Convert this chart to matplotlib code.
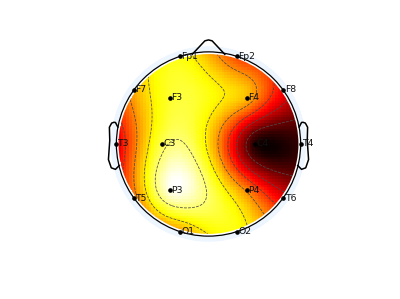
import numpy as np
import matplotlib
matplotlib.use("Agg")
import matplotlib.pyplot as plt
from matplotlib.patches import Circle

# channel locations (theta in degrees, 0 = nose, radius with head edge at 0.5)
channels = ["Fp1", "Fp2", "F7", "F3", "F4", "F8", "T3", "C3",
            "C4", "T4", "T5", "P3", "P4", "T6", "O1", "O2"]
theta = [-18, 18, -54, -39.9, 39.9, 54, -90, -90,
         90, 90, -126, -140.1, 140.1, 126, -162, 162]
radius = [0.511, 0.511, 0.511, 0.333, 0.333, 0.511, 0.511, 0.256,
          0.256, 0.511, 0.511, 0.333, 0.333, 0.511, 0.511, 0.511]
values = [0.76, 0.45, 0.62, 0.80, 0.64, 0.34, 0.30, 0.84,
          0.00, 0.03, 0.52, 1.00, 0.55, 0.32, 0.60, 0.76]

BACK = (0.93, 0.96, 1.0)
RMAX = 0.5


def v4_interp(ex, ey, v, gx, gy):
    # biharmonic spline (matlab griddata 'v4')
    pts = ex + 1j * ey
    d = np.abs(pts[:, None] - pts[None, :])
    with np.errstate(divide="ignore", invalid="ignore"):
        g = d ** 2 * (np.log(d) - 1)
    g[d == 0] = 0
    w = np.linalg.solve(g, v)
    q = (gx + 1j * gy).ravel()
    dq = np.abs(q[:, None] - pts[None, :])
    with np.errstate(divide="ignore", invalid="ignore"):
        gq = dq ** 2 * (np.log(dq) - 1)
    gq[dq == 0] = 0
    return (gq @ w).reshape(gx.shape)


def main():
    th = np.deg2rad(theta)
    ex = np.array(radius) * np.sin(th)
    ey = np.array(radius) * np.cos(th)
    v = np.array(values, dtype=float)

    rad = max(radius)
    xi = np.linspace(-rad, rad, 67)
    gx, gy = np.meshgrid(xi, xi)
    zi = v4_interp(ex, ey, v, gx, gy)
    mask = np.hypot(gx, gy) > RMAX + 0.006
    zi = np.ma.masked_array(zi, mask)

    fig = plt.figure(figsize=(4.0, 2.99), dpi=100)
    ax = fig.add_axes([0, 0, 1, 1])
    ax.set_xlim(-208.5 / 181, (400 - 208.5) / 181)
    ax.set_ylim(-(299 - 144) / 181, 144 / 181)
    ax.axis("off")

    # blanking halo
    ax.add_patch(Circle((0, 0), RMAX + 0.036, color=BACK, zorder=0))

    step = xi[1] - xi[0]
    im = ax.imshow(zi, origin="lower", cmap="hot",
                   vmin=zi.min(), vmax=zi.max(), interpolation="nearest",
                   extent=[-rad - step / 2, rad + step / 2, -rad - step / 2, rad + step / 2],
                   zorder=1)
    clip = Circle((0, 0), RMAX + 0.004, transform=ax.transData)
    im.set_clip_path(clip)

    levels = np.linspace(zi.min(), zi.max(), 8)[1:-1]
    cs = ax.contour(gx, gy, zi, levels=levels, colors="#4a4a4a",
                    linewidths=0.55, linestyles="--", zorder=2)
    cs.set_clip_path(clip)

    # head ring
    ax.add_patch(Circle((0, 0), RMAX + 0.003, fill=False, ec="white", lw=1.6, zorder=3))
    ax.add_patch(Circle((0, 0), RMAX + 0.009, fill=False, ec="black", lw=0.9, zorder=3))

    # nose
    base = RMAX - 0.0046
    bx = 0.18 * RMAX
    tip = 1.15 * RMAX
    thw = 0.04 * RMAX
    tr = 0.01 * RMAX
    ax.plot([bx, thw, 0, -thw, -bx], [base, tip - tr, tip, tip - tr, base],
            color="black", lw=1.1, zorder=4, solid_joinstyle="round")

    # ears
    ear_x = np.array([.497, .510, .518, .5299, .5419, .54, .547, .532, .510, .489])
    ear_y = np.array([.0555, .0775, .0783, .0746, .0555, -.0055, -.0932, -.1313, -.1384, -.1199])
    ear_x = 0.492 + (ear_x - 0.489) * 1.05
    ear_y = ear_y * 1.2 + 0.026
    for s in (1, -1):
        ax.plot(s * ear_x, ear_y, color="black", lw=1.1, zorder=4,
                solid_joinstyle="round", solid_capstyle="round")

    # electrodes
    ax.plot(ex, ey, "o", color="black", ms=2.3, zorder=5)
    for name, x, y in zip(channels, ex, ey):
        ax.text(x + 0.008, y, name, fontsize=6.7, ha="left", va="center",
                color="#111111", zorder=5)

    fig.savefig("out.png", dpi=100)
    plt.close(fig)


if __name__ == "__main__":
    main()
